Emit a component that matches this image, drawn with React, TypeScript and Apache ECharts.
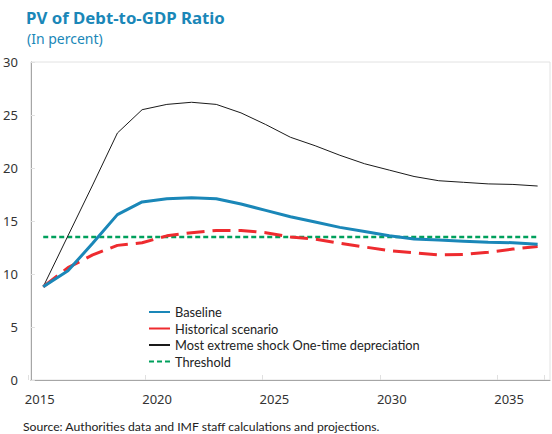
import React, { useEffect, useRef } from "react";
import * as echarts from "echarts";

const years = ["2015","2016","2017","2018","2019","2020","2021","2022","2023","2024","2025","2026","2027","2028","2029","2030","2031","2032","2033","2034","2035"];
const labelYears = ["2015","2016","2017","2018","2019","2020","2021","2022","2023","2024","2025","2026","2027","2028","2029","2030","2031","2032","2033","2034","2035","2036"];
const baseline = [8.8, 10.3, 12.9, 15.6, 16.8, 17.1, 17.2, 17.1, 16.6, 16.0, 15.4, 14.9, 14.4, 14.0, 13.6, 13.3, 13.2, 13.1, 13.0, 12.95, 12.8];
const historical = [8.8, 10.6, 11.8, 12.7, 12.95, 13.6, 13.9, 14.1, 14.1, 13.9, 13.5, 13.3, 12.9, 12.55, 12.2, 12.0, 11.8, 11.85, 12.05, 12.35, 12.6];
const extremeShock = [8.8, 13.6, 18.4, 23.3, 25.5, 26.0, 26.2, 26.0, 25.2, 24.1, 22.9, 22.1, 21.2, 20.4, 19.8, 19.2, 18.8, 18.65, 18.5, 18.45, 18.3];
const threshold = [13.5, 13.5, 13.5, 13.5, 13.5, 13.5, 13.5, 13.5, 13.5, 13.5, 13.5, 13.5, 13.5, 13.5, 13.5, 13.5, 13.5, 13.5, 13.5, 13.5, 13.5];
const yTicks = { min: 0, max: 30, interval: 5 };

const FONT = "'Noto Sans', 'Open Sans', sans-serif";
const NARROW = "Lato, 'Noto Sans', sans-serif";
const BLUE = "#1a87b8";
const RED = "#ee2b2f";
const GREEN = "#00a05c";
const BLACK = "#1a1a1a";

export default function App() {
  const ref = useRef<HTMLDivElement>(null);
  useEffect(() => {
    document.body.style.margin = "0";
    const chart = echarts.init(ref.current!, null, { renderer: "svg" });
    chart.setOption({
      animation: false,
      backgroundColor: "#ffffff",
      textStyle: { fontFamily: FONT },
      graphic: [
        { type: "text", left: 26, top: 9, style: { text: "PV of Debt-to-GDP Ratio", fontFamily: FONT, fontSize: 16.8, fontWeight: "bold", fill: BLUE } },
        { type: "text", left: 27, top: 31, style: { text: "(In percent)", fontFamily: FONT, fontSize: 14, fill: BLUE } },
        { type: "text", left: 23, top: 420, style: { text: "Source: Authorities data and IMF staff calculations and projections.", fontFamily: NARROW, fontSize: 12.2, fill: "#222" } },
      ],
      grid: [
        { left: 30, right: 2, top: 62, bottom: 54, show: true, borderColor: "#e2e2e2", borderWidth: 1 },
        { left: 28, right: 7.7, top: 62, bottom: 54, show: false },
      ],
      legend: {
        orient: "vertical",
        left: 148,
        top: 304,
        padding: 0,
        itemWidth: 21,
        itemHeight: 10,
        itemGap: 0.5,
        itemStyle: { opacity: 0, borderWidth: 0 },
        textStyle: { fontFamily: NARROW, fontSize: 12.8, color: "#222", lineHeight: 16 },
        data: [
          { name: "Baseline" },
          { name: "Historical scenario", lineStyle: { type: "solid" } },
          { name: "Most extreme shock One-time depreciation" },
          { name: "Threshold" },
        ],
      },
      xAxis: [
        {
          type: "category",
          gridIndex: 0,
          data: years,
          boundaryGap: true,
          axisLine: { show: true, lineStyle: { color: "#a6a6a6", width: 1 } },
          axisTick: { show: false },
          axisLabel: { show: false },
          splitLine: { show: false },
        },
        {
          type: "category",
          gridIndex: 1,
          data: labelYears,
          boundaryGap: true,
          position: "bottom",
          axisLine: { show: false },
          axisTick: { show: true, inside: true, interval: 4, length: 5, lineStyle: { color: "#e0e0e0" } },
          axisLabel: { show: true, interval: 4, margin: 12, fontSize: 13, color: "#333", fontFamily: FONT },
          splitLine: { show: false },
        },
      ],
      yAxis: [
        {
          type: "value",
          gridIndex: 0,
          min: yTicks.min,
          max: yTicks.max,
          interval: yTicks.interval,
          axisLine: { show: true, lineStyle: { color: "#a6a6a6", width: 1 } },
          axisTick: { show: true, inside: true, length: 4, lineStyle: { color: "#e0e0e0" } },
          axisLabel: { fontSize: 13, color: "#333", margin: 13, fontFamily: FONT },
          splitLine: { show: false },
        },
        { type: "value", gridIndex: 1, min: 0, max: 30, show: false },
      ],
      series: [
        {
          name: "Threshold", type: "line", data: threshold, symbol: "none", z: 2,
          lineStyle: { color: GREEN, width: 2.5, type: [5, 3] }, itemStyle: { color: GREEN },
        },
        {
          name: "Most extreme shock One-time depreciation", type: "line", data: extremeShock, symbol: "none", z: 3,
          lineStyle: { color: BLACK, width: 1 }, itemStyle: { color: BLACK },
        },
        {
          name: "Historical scenario", type: "line", data: historical, symbol: "none", z: 4,
          lineStyle: { color: RED, width: 3, type: [18, 8] }, itemStyle: { color: RED },
        },
        {
          name: "Baseline", type: "line", data: baseline, symbol: "none", z: 5,
          lineStyle: { color: BLUE, width: 3 }, itemStyle: { color: BLUE },
        },
      ],
    });
    return () => chart.dispose();
  }, []);
  return <div ref={ref} style={{ width: 552, height: 434 }} />;
}
